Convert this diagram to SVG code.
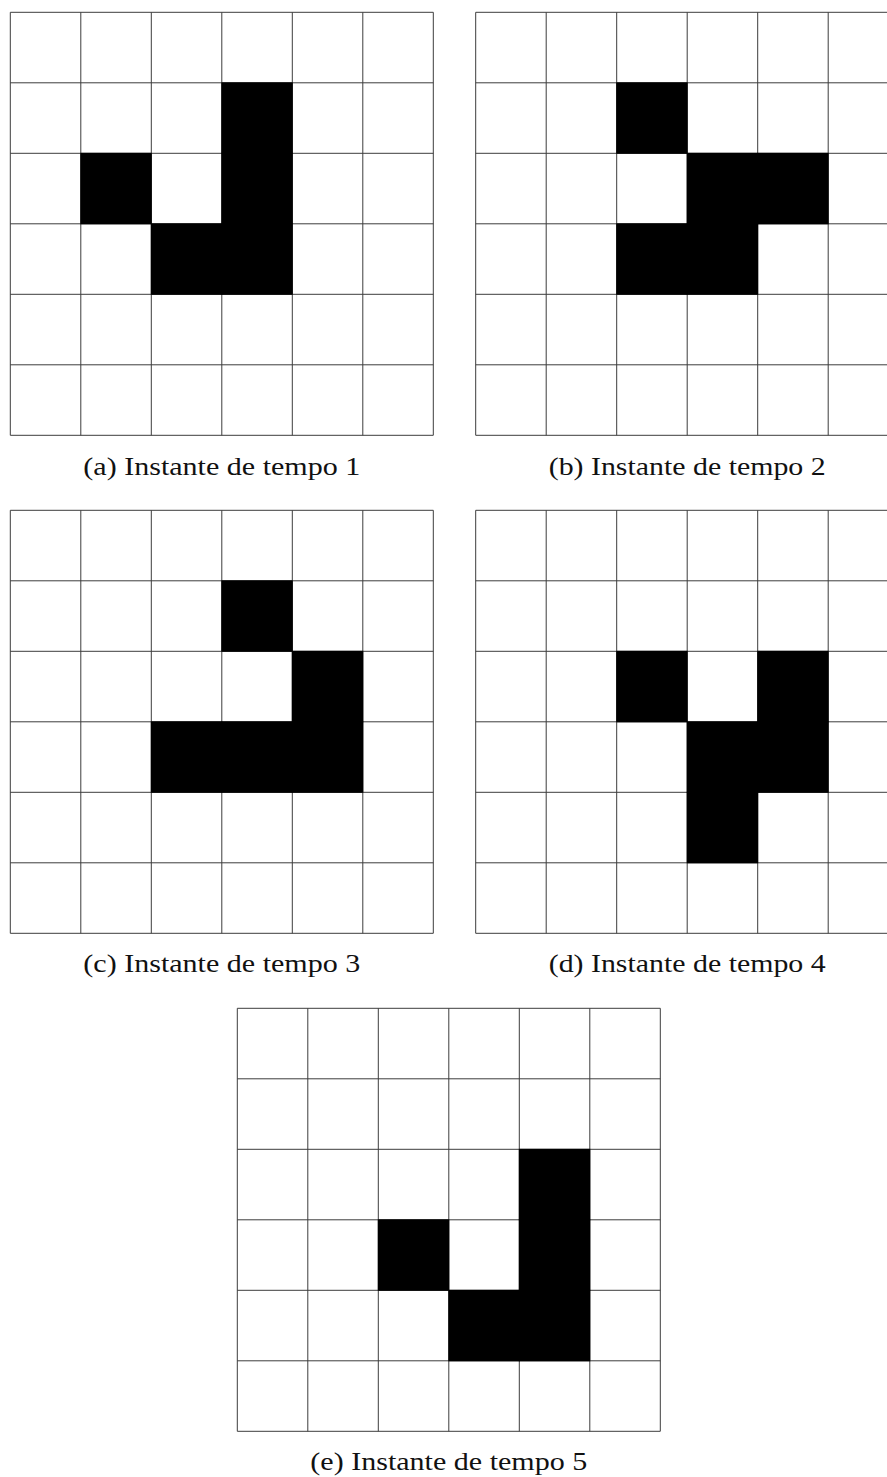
<svg xmlns="http://www.w3.org/2000/svg" xmlns:xlink="http://www.w3.org/1999/xlink" width="887" height="1477" viewBox="0 0 887 1477">
<style>
.cell{fill:#000}
.lines{fill:none;stroke:#3c3c3c;stroke-width:1}
.cap{font-family:"Liberation Serif","DejaVu Serif",serif;font-size:26px;fill:#111;text-anchor:middle}
</style>
<defs>
<path id="gridlines" class="lines" d="M0,0H423V423H0Z M70.5,0V423 M141,0V423 M211.5,0V423 M282,0V423 M352.5,0V423 M0,70.5H423 M0,141H423 M0,211.5H423 M0,282H423 M0,352.5H423"/>
<rect id="c" x="-0.5" y="-0.5" width="71.5" height="71.5" class="cell"/>
</defs>
<rect width="887" height="1477" fill="#fff"/>
<g id="panel-a" transform="translate(10.3,12.3)">
<use xlink:href="#gridlines"/>
<use xlink:href="#c" x="211.5" y="70.5"/>
<use xlink:href="#c" x="211.5" y="141"/>
<use xlink:href="#c" x="211.5" y="211.5"/>
<use xlink:href="#c" x="70.5" y="141"/>
<use xlink:href="#c" x="141" y="211.5"/>
<text class="cap" x="211.5" y="462.5" textLength="277" lengthAdjust="spacingAndGlyphs">(a) Instante de tempo 1</text>
</g>
<g id="panel-b" transform="translate(475.7,12.3)">
<use xlink:href="#gridlines"/>
<use xlink:href="#c" x="141" y="70.5"/>
<use xlink:href="#c" x="211.5" y="141"/>
<use xlink:href="#c" x="282" y="141"/>
<use xlink:href="#c" x="141" y="211.5"/>
<use xlink:href="#c" x="211.5" y="211.5"/>
<text class="cap" x="211.5" y="462.5" textLength="277" lengthAdjust="spacingAndGlyphs">(b) Instante de tempo 2</text>
</g>
<g id="panel-c" transform="translate(10.3,510.3)">
<use xlink:href="#gridlines"/>
<use xlink:href="#c" x="211.5" y="70.5"/>
<use xlink:href="#c" x="282" y="141"/>
<use xlink:href="#c" x="141" y="211.5"/>
<use xlink:href="#c" x="211.5" y="211.5"/>
<use xlink:href="#c" x="282" y="211.5"/>
<text class="cap" x="211.5" y="461.5" textLength="277" lengthAdjust="spacingAndGlyphs">(c) Instante de tempo 3</text>
</g>
<g id="panel-d" transform="translate(475.7,510.3)">
<use xlink:href="#gridlines"/>
<use xlink:href="#c" x="141" y="141"/>
<use xlink:href="#c" x="282" y="141"/>
<use xlink:href="#c" x="211.5" y="211.5"/>
<use xlink:href="#c" x="282" y="211.5"/>
<use xlink:href="#c" x="211.5" y="282"/>
<text class="cap" x="211.5" y="461.5" textLength="277" lengthAdjust="spacingAndGlyphs">(d) Instante de tempo 4</text>
</g>
<g id="panel-e" transform="translate(237.3,1008.3)">
<use xlink:href="#gridlines"/>
<use xlink:href="#c" x="282" y="141"/>
<use xlink:href="#c" x="282" y="211.5"/>
<use xlink:href="#c" x="282" y="282"/>
<use xlink:href="#c" x="141" y="211.5"/>
<use xlink:href="#c" x="211.5" y="282"/>
<text class="cap" x="211.5" y="461.5" textLength="277" lengthAdjust="spacingAndGlyphs">(e) Instante de tempo 5</text>
</g>
</svg>
